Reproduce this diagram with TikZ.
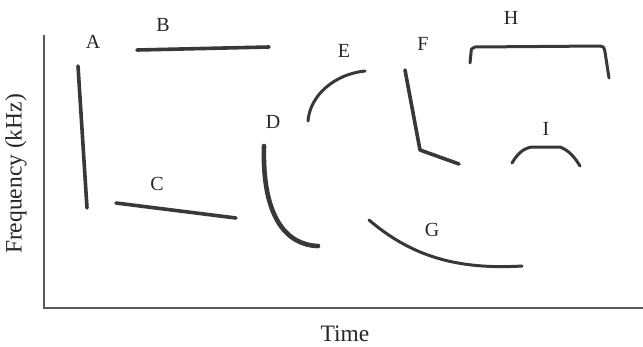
\documentclass[tikz,border=0pt]{standalone}
\usepackage{fontspec}
\setmainfont{Liberation Serif}
\begin{document}
\begin{tikzpicture}[x=1pt,y=-1pt,
  stroke/.style={line width=3.6pt,draw=black!78,line cap=round,line join=round},
  axis/.style={line width=1.6pt,draw=black!65},
  lbl/.style={font=\fontsize{20}{24}\selectfont,text=black!85,inner sep=0pt},
  ttl/.style={font=\fontsize{23.5}{28}\selectfont,text=black!85,inner sep=0pt}]
\useasboundingbox (0,0) rectangle (643,346);
% axes
\coordinate (o) at (44,308);
\coordinate (ytop) at (44,35);
\coordinate (xend) at (643,308);
\draw[axis] (ytop) -- (o) -- (xend);
\node[ttl] (time) at (345,334) {Time};
\node[ttl,rotate=90] (freq) at (16,174) {Frequency (kHz)};
% labels
\node[lbl] (la) at (93,42) {A};
\node[lbl] (lb) at (163,25) {B};
\node[lbl] (lc) at (157,184) {C};
\node[lbl] (ld) at (273,122) {D};
\node[lbl] (le) at (344,51) {E};
\node[lbl] (lf) at (423,44) {F};
\node[lbl] (lg) at (432,230) {G};
\node[lbl] (lh) at (511,18) {H};
\node[lbl] (li) at (546,129) {I};
% strokes
\draw[stroke] (78,66) -- (87,208);
\draw[stroke] (137,50) -- (269,47);
\draw[stroke] (116,203) -- (236,218);
\draw[stroke,line width=4.6pt] (264,146) .. controls (262,215) and (285,245) .. (318,246);
\draw[stroke,line width=3pt] (308,121) .. controls (310,95) and (335,74) .. (365,71);
\draw[stroke] (405,70) -- (420,150) -- (459,164);
\draw[stroke,line width=3pt] (470,63) -- (471,53) .. controls (471,49) .. (475,47) -- (600,46) .. controls (604,47) .. (605,52) -- (609,78);
\draw[stroke,line width=3pt] (512,163) .. controls (518,153) and (524,148) .. (532,147) -- (560,147) .. controls (568,150) and (574,156) .. (580,166);
\draw[stroke,line width=3pt] (369,220) .. controls (410,255) and (455,270) .. (522,266);
\end{tikzpicture}
\end{document}
